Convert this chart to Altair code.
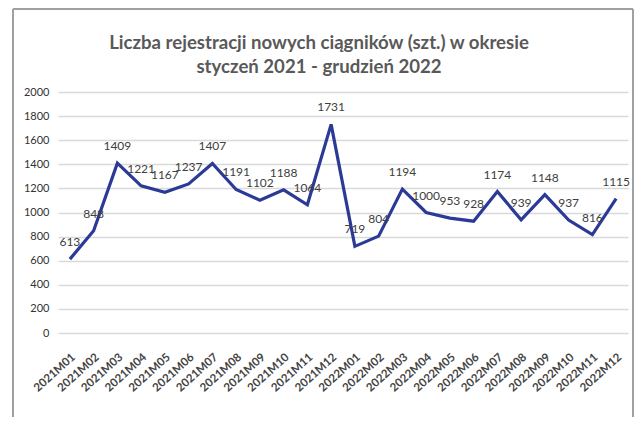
import altair as alt
import pandas as pd

months = ["2021M01", "2021M02", "2021M03", "2021M04", "2021M05", "2021M06",
          "2021M07", "2021M08", "2021M09", "2021M10", "2021M11", "2021M12",
          "2022M01", "2022M02", "2022M03", "2022M04", "2022M05", "2022M06",
          "2022M07", "2022M08", "2022M09", "2022M10", "2022M11", "2022M12"]
values = [613, 848, 1409, 1221, 1167, 1237, 1407, 1191, 1102, 1188, 1064, 1731,
          719, 804, 1194, 1000, 953, 928, 1174, 939, 1148, 937, 816, 1115]
y_ticks = [0, 200, 400, 600, 800, 1000, 1200, 1400, 1600, 1800, 2000]
title_lines = ["Liczba rejestracji nowych ciągników (szt.) w okresie",
               "styczeń 2021 - grudzień 2022"]

df = pd.DataFrame({"month": months, "value": values})

W, H = 570, 241
PL, PT = 50, 84

x = alt.X("month:N", sort=months, title=None,
          scale=alt.Scale(type="band", paddingInner=0, paddingOuter=0),
          axis=alt.Axis(labelAngle=-42, labelFontSize=11.5, labelColor="#444444",
                        labelFont="Lato", labelFontWeight="bold",
                        ticks=False, domain=False, grid=False, labelPadding=18))
y = alt.Y("value:Q", title=None,
          scale=alt.Scale(domain=[0, 2000], nice=False),
          axis=alt.Axis(values=y_ticks, format="d", labelFontSize=11,
                        labelColor="#333333", labelFont="Lato", ticks=False,
                        domain=False, gridColor="#d9d9d9", gridWidth=1.5,
                        labelPadding=9))

base = alt.Chart(df)
line = base.mark_line(color="#2b3a97", strokeWidth=3.2).encode(x=x, y=y)
labels = base.mark_text(dy=-17, fontSize=12, font="Lato", color="#404040",
                        baseline="middle").encode(x=x, y=y, text="value:Q")

frame = pd.DataFrame({"x": [0]})
left_border = alt.Chart(frame).mark_rule(color="#a0a0a0", strokeWidth=2).encode(
    x=alt.value(-45), y=alt.value(-PT + 1), y2=alt.value(H + 90))
right_border = alt.Chart(frame).mark_rule(color="#a0a0a0", strokeWidth=2).encode(
    x=alt.value(W + 5), y=alt.value(-PT + 1), y2=alt.value(H + 90))
top_border = alt.Chart(frame).mark_rule(color="#a0a0a0", strokeWidth=2).encode(
    x=alt.value(-45), x2=alt.value(W + 5), y=alt.value(-PT + 1))

title_style = dict(font="Lato", fontSize=18.6, fontWeight="bold", color="#595959",
                   align="center", baseline="middle")
title1 = alt.Chart(frame).mark_text(text=title_lines[0], **title_style).encode(
    x=alt.value(261), y=alt.value(-49))
title2 = alt.Chart(frame).mark_text(text=title_lines[1], **title_style).encode(
    x=alt.value(261), y=alt.value(-25))

chart = alt.layer(line, labels, left_border, right_border, top_border,
                  title1, title2).properties(
    width=W, height=H,
    autosize=alt.AutoSizeParams(type="none"),
    padding={"left": PL, "top": PT, "right": 6, "bottom": 84},
).configure_view(stroke=None)

chart.save("out.html", embed_options={"renderer": "svg", "actions": False})
